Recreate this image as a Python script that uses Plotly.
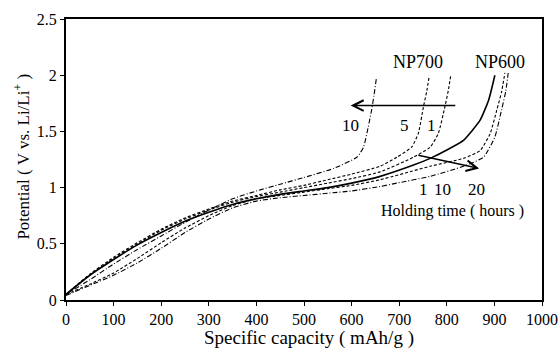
import plotly.graph_objects as go

# NP600, holding 1 h (solid)
np600_1h_x = [0, 50, 100, 150, 200, 250, 300, 350, 400, 450, 500, 550, 600, 660, 730, 765, 807, 835, 870, 888, 901]
np600_1h_y = [0.05, 0.22, 0.36, 0.49, 0.60, 0.70, 0.78, 0.85, 0.90, 0.94, 0.97, 1.00, 1.04, 1.10, 1.20, 1.26, 1.35, 1.42, 1.60, 1.78, 2.00]

# NP600, holding 10 h (dashed)
np600_10h_x = [0, 50, 100, 150, 200, 250, 300, 350, 400, 450, 500, 550, 600, 660, 765, 835, 870, 891, 905, 915, 922]
np600_10h_y = [0.05, 0.14, 0.24, 0.37, 0.51, 0.64, 0.75, 0.84, 0.90, 0.93, 0.96, 0.99, 1.02, 1.07, 1.19, 1.26, 1.33, 1.48, 1.69, 1.85, 2.02]

# NP600, holding 20 h (dash-dot)
np600_20h_x = [0, 50, 100, 150, 200, 250, 300, 350, 400, 450, 500, 550, 600, 660, 695, 765, 835, 877, 901, 915, 924, 929]
np600_20h_y = [0.04, 0.13, 0.22, 0.33, 0.46, 0.60, 0.72, 0.82, 0.88, 0.91, 0.93, 0.95, 0.97, 1.01, 1.04, 1.10, 1.19, 1.27, 1.45, 1.69, 1.86, 2.02]

# NP700, holding 1 h (dashed)
np700_1h_x = [0, 50, 100, 150, 200, 250, 300, 350, 400, 450, 500, 550, 600, 660, 730, 765, 782, 796, 803, 808]
np700_1h_y = [0.05, 0.22, 0.37, 0.50, 0.62, 0.72, 0.80, 0.87, 0.92, 0.96, 1.00, 1.04, 1.08, 1.14, 1.27, 1.36, 1.48, 1.72, 1.86, 1.99]

# NP700, holding 5 h (dashed)
np700_5h_x = [0, 50, 100, 150, 200, 250, 300, 350, 400, 450, 500, 550, 600, 660, 695, 726, 740, 751, 758, 763]
np700_5h_y = [0.05, 0.23, 0.38, 0.51, 0.63, 0.73, 0.81, 0.88, 0.93, 0.98, 1.02, 1.07, 1.12, 1.19, 1.27, 1.36, 1.48, 1.72, 1.86, 1.99]

# NP700, holding 10 h (dash-dot)
np700_10h_x = [0, 50, 100, 150, 200, 250, 300, 350, 400, 450, 500, 562, 611, 625, 635, 642, 647, 652]
np700_10h_y = [0.05, 0.18, 0.32, 0.45, 0.57, 0.69, 0.80, 0.90, 0.97, 1.03, 1.09, 1.17, 1.27, 1.36, 1.54, 1.69, 1.82, 1.97]

x_ticks = [0, 100, 200, 300, 400, 500, 600, 700, 800, 900, 1000]
y_ticks = [0, 0.5, 1, 1.5, 2, 2.5]
y_tick_labels = ["0", "0.5", "1", "1.5", "2", "2.5"]

FONT = "Liberation Serif, Times New Roman, serif"
DASH = "3px,2px"
DASHDOT = "5px,2px,1px,2px"

series = [
    (np600_1h_x, np600_1h_y, "solid", 1.6),
    (np600_10h_x, np600_10h_y, DASH, 1.1),
    (np600_20h_x, np600_20h_y, DASHDOT, 1.1),
    (np700_1h_x, np700_1h_y, DASH, 1.1),
    (np700_5h_x, np700_5h_y, DASH, 1.1),
    (np700_10h_x, np700_10h_y, DASHDOT, 1.1),
]

fig = go.Figure()
for xs, ys, dash, w in series:
    fig.add_trace(go.Scatter(x=xs, y=ys, mode="lines",
                             line=dict(color="black", width=w, dash=dash, shape="spline", smoothing=0.5),
                             showlegend=False, hoverinfo="skip"))

axis_common = dict(showline=True, linecolor="black", linewidth=2, mirror=True, ticks="outside", ticklen=4,
                   tickcolor="black", tickwidth=1, showgrid=False, zeroline=False, automargin=False,
                   tickfont=dict(family=FONT, size=16, color="black"))

fig.update_layout(
    width=558, height=349,
    margin=dict(l=66, r=16, t=19, b=49),
    plot_bgcolor="white", paper_bgcolor="white",
    font=dict(family=FONT, color="black"),
    xaxis=dict(range=[0, 1000], tickvals=x_ticks, ticktext=[str(v) for v in x_ticks], **axis_common),
    yaxis=dict(range=[0, 2.5], tickvals=y_ticks, ticktext=y_tick_labels, **axis_common),
)

# axis titles
fig.add_annotation(x=0.51, y=-0.135, xref="paper", yref="paper", xanchor="center", yanchor="middle",
                   text="Specific capacity ( mAh/g )",
                   showarrow=False, font=dict(family=FONT, size=19, color="black"))
fig.add_annotation(x=-0.0914, y=0.512, xref="paper", yref="paper", xanchor="center", yanchor="middle",
                   text="Potential ( V vs. Li/Li<sup>+</sup> )",
                   textangle=-90, showarrow=False, font=dict(family=FONT, size=17, color="black"))

def txt(x, y, s, size=14):
    fig.add_annotation(x=x, y=y, xref="x", yref="y", text=s, showarrow=False,
                       font=dict(family=FONT, size=size, color="black"))

txt(739, 2.12, "NP700", 18)
txt(912, 2.12, "NP600", 18)
txt(597, 1.55, "10", 17)
txt(712, 1.55, "5", 17)
txt(768, 1.55, "1", 17)
txt(752, 0.98, "1", 17)
txt(792, 0.98, "10", 17)
txt(863, 0.98, "20", 17)
txt(812, 0.79, "Holding time ( hours )", 16)

fig.add_annotation(x=598, y=1.73, ax=821, ay=1.73, xref="x", yref="y", axref="x", ayref="y",
                   text="", showarrow=True, arrowhead=5, arrowsize=1.4, arrowwidth=1.5, arrowcolor="black")
fig.add_annotation(x=868, y=1.17, ax=737, ay=1.29, xref="x", yref="y", axref="x", ayref="y",
                   text="", showarrow=True, arrowhead=5, arrowsize=1.4, arrowwidth=1.5, arrowcolor="black")

fig.write_html("out.html", config={"displayModeBar": False},
               post_script="document.body.style.margin='0';document.body.style.overflow='hidden';")
